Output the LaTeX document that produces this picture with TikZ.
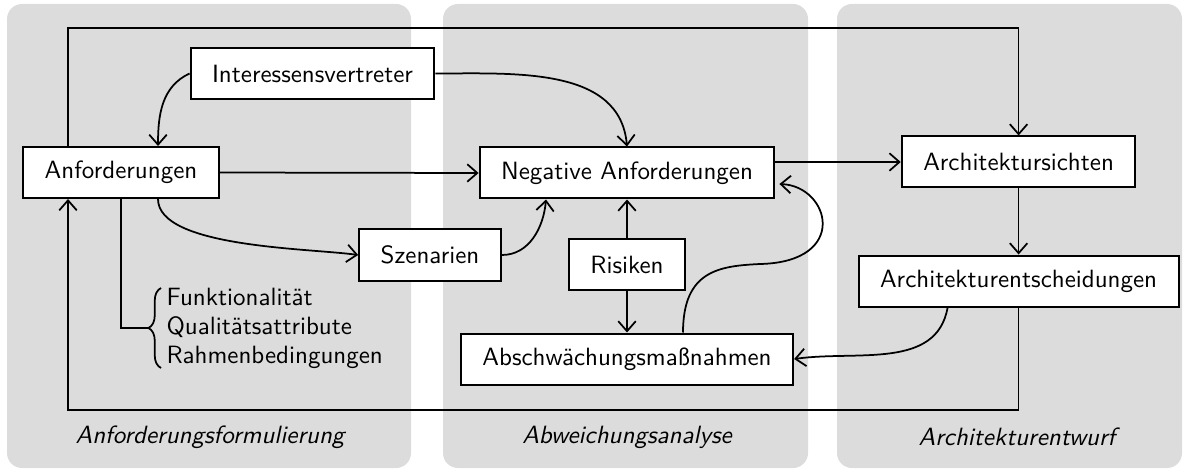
\documentclass[tikz,border=0pt]{standalone}
\usetikzlibrary{arrows.meta,calc,decorations.pathreplacing}
\definecolor{panelgray}{RGB}{220,220,220}
\begin{document}
\begin{tikzpicture}[x=0.4pt,y=-0.4pt,
  panel/.style={fill=panelgray, rounded corners=6pt},
  box/.style={draw, fill=white, line width=0.8pt, minimum height=20.4pt,
              inner xsep=8.6pt, font=\sffamily},
  arr/.style={line width=0.7pt, -{Straight Barb[length=4pt,width=7pt]}},
  link/.style={line width=0.7pt},
  phase/.style={font=\sffamily\itshape}]
\useasboundingbox (0,0) rectangle (1190,472);

% three phase panels
\fill[panel] (7,4) rectangle (411,468);
\fill[panel] (443,4) rectangle (808,468);
\fill[panel] (837,4) rectangle (1182,468);

\node[phase] (p1) at (210,437) {Anforderungsformulierung};
\node[phase] (p2) at (627,437) {Abweichungsanalyse};
\node[phase] (p3) at (1017,437) {Architekturentwurf};

% boxes
\node[box] (iv)   at (312.5,73.5) {Interessensvertreter};
\node[box] (anf)  at (121,172.5)  {Anforderungen};
\node[box] (neg)  at (627,173)    {Negative Anforderungen};
\node[box] (szen) at (430,255)    {Szenarien};
\node[box] (ris)  at (627,264.5)  {Risiken};
\node[box] (abs)  at (627,359)    {Abschwächungsmaßnahmen};
\node[box] (arch) at (1018.6,162) {Architektursichten};
\node[box] (ent)  at (1018.6,281) {Architekturentscheidungen};

% kinds of requirements, grouped by a brace
\node[anchor=west, inner sep=0pt, align=left,
      font=\sffamily\fontsize{10}{11.6}\selectfont] (attr) at (166,328)
  {Funktionalität\\Qualitätsattribute\\Rahmenbedingungen};
\draw[line width=0.7pt, decorate, decoration={brace, amplitude=5pt}]
  (161,368) -- (161,288);
\coordinate (tip) at (148,328);

% guide lines for the long routes
\coordinate (topy) at (0,28);
\coordinate (boty) at (0,410);

% connectors
\draw[arr] ($(anf.north)+(-53,0)$) |- (topy -| arch.north) -- (arch.north);
\draw[arr] (iv.west) to[out=205,in=90] ($(anf.north)+(37,0)$);
\draw[arr] (iv.east) to[out=0,in=95] (neg.north);
\draw[arr] (anf.east) -- (neg.west);
\draw[arr] ($(anf.south)+(37,0)$) to[out=-90,in=172,looseness=0.6] (szen.west);
\draw[arr] (szen.east) to[out=0,in=-95] ($(neg.south)+(-81,0)$);
\draw[arr] (ris.north) -- (neg.south);
\draw[arr] (ris.south) -- (abs.north);
\draw[arr] ($(abs.north)+(56,0)$) .. controls (683,270) and (720,266) .. (760,264)
           .. controls (850,262) and (830,186) .. ($(neg.east)+(4,11)$);
\draw[arr] (neg.east |- arch.west) -- (arch.west);
\draw[arr] (arch.south) -- (ent.north);
\draw[arr] ($(ent.south)+(-71,0)$) to[out=-100,in=8] (abs.east);
\draw[arr] (ent.south) -- (ent.south |- boty) -| ($(anf.south)+(-53,0)$);
\draw[link] (anf.south) |- (tip);
\end{tikzpicture}
\end{document}
